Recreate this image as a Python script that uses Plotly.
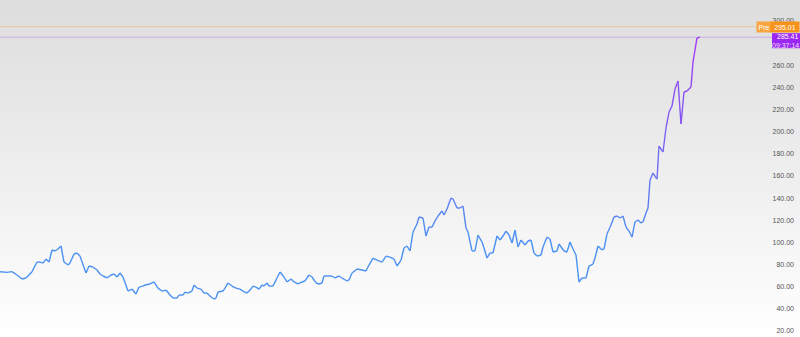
import plotly.graph_objects as go

# ---- data ----
bar = [0,7,12,17,22,26,32,37,40,43,46,49,52,55,58,61,64,68,70,74,77,80,86,89,93,97,100,103,107,111,114,117,120,123,128,132,136,139,143,
       145,150,154,158,162,166,170,173,177,179,183,185,188,192,194,197,201,204,207,211,214,216,218,223,225,228,232,236,240,243,247,250,253,256,259,262,264,267,269,273,277,280,
       284,287,291,294,298,302,305,309,312,316,319,322,324,328,332,335,339,342,347,349,352,357,362,366,369,373,377,382,386,390,394,397,401,404,407,410,413,417,419,
       423,426,429,432,435,438,442,444,447,451,453,457,460,463,466,468,472,475,478,482,484,487,490,493,497,500,503,506,509,512,515,518,521,525,528,531,534,537,541,543,547,550,553,557,559,
       564,567,570,573,576,579,582,586,589,593,595,598,602,604,607,611,614,617,620,623,626,629,632,635,638,641,643,646,648,650,653,657,659,663,666,669,672,675,678,681,684,687,691,693,697,700]

price = [73.6,73.0,73.6,70.6,67.0,67.9,73.6,82.3,82.3,81.4,85.0,82.3,93.2,92.3,94.1,96.8,82.3,79.6,81.4,89.6,90.5,87.7,72.4,78.7,77.8,75.1,71.5,69.7,67.9,70.6,71.5,68.8,72.4,68.8,56.1,57.9,53.4,59.7,60.6,
         61.6,62.5,64.3,58.8,56.1,57.0,52.5,49.8,49.8,52.5,52.5,55.2,54.3,56.1,61.6,58.8,57.9,54.3,54.3,50.7,48.9,49.8,55.2,56.1,58.8,63.4,60.6,58.8,57.9,56.1,54.3,57.0,60.6,59.7,57.9,61.6,60.6,63.4,60.6,60.6,67.9,73.3,
         68.8,64.3,67.0,64.3,62.5,64.3,65.2,70.6,68.8,63.4,62.5,63.4,69.7,69.7,69.7,67.9,69.7,67.9,65.2,66.1,72.4,76.0,75.1,74.2,79.6,85.9,84.1,82.3,87.7,86.8,85.0,78.7,84.1,95.0,96.8,92.3,109.4,116.7,123.0,
         122.1,105.8,113.9,113.9,119.4,123.9,128.4,124.8,130.2,140.1,139.2,131.1,131.1,132.9,113.0,109.4,92.3,92.3,106.7,100.4,95.0,85.9,90.5,90.5,105.8,102.2,105.8,110.3,106.7,99.5,111.2,95.9,102.2,97.7,101.3,102.2,90.5,87.7,88.7,95.9,104.9,103.1,91.4,92.3,98.6,
         92.3,91.4,100.4,94.1,88.7,64.3,67.9,67.9,78.7,80.5,85.9,96.8,93.2,94.1,107.6,115.8,123.0,123.9,122.1,123.9,113.9,110.3,104.9,118.5,120.3,117.6,118.5,126.6,131.1,156.4,162.7,157.3,187.1,181.7,203.4,217.8,223.2,238.6,245.8,207.0,235.9,236.8,240.4,263.0,284.7,285.41]

assert len(bar) == len(price)

pre_price = 295.01
last_price = 285.41
last_time = "09:37:14"
# 280.00 is hidden behind the last-price label in the reference
tick_vals = [20, 40, 60, 80, 100, 120, 140, 160, 180, 200, 220, 240, 260, 300, 320]
tick_text = [f"{v:.2f}" for v in tick_vals]

# ---- styling ----
W, H = 800, 337
y_range = [14.6, 319.0]
px_unit = (y_range[1] - y_range[0]) / H   # value units per pixel
blue = (76, 146, 242)
purple = (163, 55, 245)
c_lo, c_hi = 100.0, 285.0
FONT = "Liberation Sans, Arial"


def mix(v):
    t = min(max((v - c_lo) / (c_hi - c_lo), 0.0), 1.0)
    r = [round(blue[i] + (purple[i] - blue[i]) * t) for i in range(3)]
    return f"rgb({r[0]},{r[1]},{r[2]})"


fig = go.Figure()

# smooth vertical background gradient (white at bottom, light gray at top)
fig.add_trace(go.Heatmap(
    x=[0, W], y=y_range, z=[[0, 0], [1, 1]], zsmooth="best",
    colorscale=[[0, "rgb(255,255,255)"], [1, "rgb(221,221,221)"]],
    showscale=False, hoverinfo="skip"))

# gradient line drawn as consecutive segments
for i in range(len(bar) - 1):
    mid = (price[i] + price[i + 1]) / 2
    fig.add_trace(go.Scatter(
        x=[bar[i], bar[i + 1]], y=[price[i], price[i + 1]],
        mode="lines", line=dict(color=mix(mid), width=1.4),
        hoverinfo="skip", showlegend=False))

shapes = [
    dict(type="line", xref="paper", yref="y", x0=0, x1=757 / W,
         y0=pre_price, y1=pre_price, line=dict(color="rgba(247,165,85,0.45)", width=1)),
    dict(type="line", xref="paper", yref="y", x0=0, x1=772 / W,
         y0=last_price, y1=last_price, line=dict(color="rgba(170,110,235,0.45)", width=1)),
    # last-price label box
    dict(type="rect", xref="paper", yref="y", x0=772 / W, x1=1,
         y0=last_price - 11 * px_unit, y1=last_price + 4 * px_unit,
         fillcolor="#9c27f2", line=dict(width=0), layer="above"),
]

annotations = [
    dict(xref="paper", yref="y", x=772 / W, y=pre_price, xanchor="right", yanchor="middle",
         text="Pre", showarrow=False, bgcolor="#f8a540", width=14, height=10, borderpad=0,
         font=dict(family=FONT, size=7, color="white")),
    dict(xref="paper", yref="y", x=1, y=pre_price, xanchor="right", yanchor="middle",
         text=f"{pre_price:.2f}", showarrow=False, bgcolor="#f7931a", width=28, height=10, borderpad=0,
         font=dict(family=FONT, size=7, color="white")),
    dict(xref="paper", yref="y", x=1, y=last_price + 0.5 * px_unit, xanchor="right", yanchor="middle",
         text=f"{last_price:.2f}", showarrow=False, borderpad=0, align="right",
         font=dict(family=FONT, size=7, color="white")),
    dict(xref="paper", yref="y", x=1, y=last_price - 8 * px_unit, xanchor="right", yanchor="middle",
         text=last_time, showarrow=False, borderpad=0, align="right",
         font=dict(family=FONT, size=7, color="rgba(255,255,255,0.85)")),
]
# tick labels beyond the visible range (top one is clipped by the window)
for v, s in zip(tick_vals, tick_text):
    if v > y_range[1]:
        annotations.append(dict(xref="paper", yref="y", x=797 / W, y=v, xanchor="right", yanchor="middle",
                                text=s, showarrow=False, font=dict(family=FONT, size=7, color="#555")))

fig.update_layout(
    width=W, height=H,
    margin=dict(l=0, r=0, t=0, b=0),
    paper_bgcolor="white", plot_bgcolor="white",
    shapes=shapes, annotations=annotations,
    showlegend=False,
    xaxis=dict(range=[0, W], visible=False, fixedrange=True),
    yaxis=dict(range=y_range, side="right", showgrid=False, zeroline=False, showline=False,
               tickmode="array", tickvals=tick_vals, ticktext=tick_text,
               ticklabelposition="inside", ticks="", ticklabelstandoff=3,
               tickfont=dict(family=FONT, size=7, color="#555")),
)

fig.write_html("out.html")
